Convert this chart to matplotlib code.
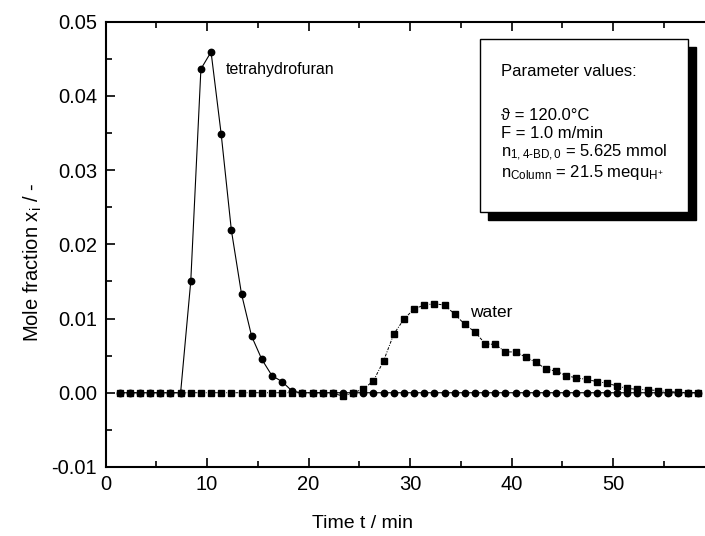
import matplotlib
matplotlib.use("Agg")
import matplotlib.pyplot as plt
from matplotlib.patches import Rectangle
from matplotlib.ticker import MultipleLocator
import numpy as np

plt.rcParams['font.family'] = ['Liberation Sans', 'DejaVu Sans']
plt.rcParams['mathtext.fontset'] = 'custom'
plt.rcParams['mathtext.rm'] = 'Liberation Sans'
plt.rcParams['mathtext.it'] = 'Liberation Sans'

# ---- data ----
time_min = [1.4, 2.4, 3.4, 4.4, 5.4, 6.4, 7.4, 8.4, 9.4, 10.4,
            11.4, 12.4, 13.4, 14.4, 15.4, 16.4, 17.4, 18.4, 19.4, 20.4,
            21.4, 22.4, 23.4, 24.4, 25.4, 26.4, 27.4, 28.4, 29.4, 30.4,
            31.4, 32.4, 33.4, 34.4, 35.4, 36.4, 37.4, 38.4, 39.4, 40.4,
            41.4, 42.4, 43.4, 44.4, 45.4, 46.4, 47.4, 48.4, 49.4, 50.4,
            51.4, 52.4, 53.4, 54.4, 55.4, 56.4, 57.4, 58.4]

x_thf = [0.0, 0.0, 0.0, 0.0, 0.0, 0.0, 0.0, 0.0150, 0.0436, 0.0459,
         0.0348, 0.0219, 0.0133, 0.0076, 0.0045, 0.0023, 0.0015, 0.0002, 0.0, 0.0,
         0.0, 0.0, 0.0, 0.0, 0.0, 0.0, 0.0, 0.0, 0.0, 0.0,
         0.0, 0.0, 0.0, 0.0, 0.0, 0.0, 0.0, 0.0, 0.0, 0.0,
         0.0, 0.0, 0.0, 0.0, 0.0, 0.0, 0.0, 0.0, 0.0, 0.0,
         0.0, 0.0, 0.0, 0.0, 0.0, 0.0, 0.0, 0.0]

x_water = [0.0, 0.0, 0.0, 0.0, 0.0, 0.0, 0.0, 0.0, 0.0, 0.0,
           0.0, 0.0, 0.0, 0.0, 0.0, 0.0, 0.0, 0.0, 0.0, 0.0,
           0.0, 0.0, -0.0005, 0.0, 0.0005, 0.0016, 0.0043, 0.0079, 0.0099, 0.0113,
           0.0118, 0.0120, 0.0118, 0.0106, 0.0092, 0.0082, 0.0066, 0.0065, 0.0055, 0.0055,
           0.0048, 0.0041, 0.0032, 0.0029, 0.0023, 0.0020, 0.0018, 0.0015, 0.0013, 0.0009,
           0.0006, 0.00045, 0.0004, 0.0003, 0.00015, 0.0001, 0.0, 0.0]

x_ticks = [0, 10, 20, 30, 40, 50]
y_ticks = [-0.01, 0.00, 0.01, 0.02, 0.03, 0.04, 0.05]

param_lines = ["Parameter values:",
               "",
               "\u03d1 = 120.0\u00b0C",
               "F = 1.0 m/min",
               r"n$_{\mathregular{1,4\text{-}BD,0}}$ = 5.625 mmol",
               r"n$_{\mathregular{Column}}$ = 21.5 mequ$_{\mathregular{H^{+}}}$"]

# ---- figure ----
W, H = 705, 536
fig = plt.figure(figsize=(W / 100, H / 100), dpi=100)
ax = fig.add_axes([105.5 / W, 1 - 467 / H, 609 / W, (467 - 21.5) / H])

ax.plot(time_min, x_water, linestyle=(0, (3, 1.5, 1, 1.5)), color='black', linewidth=0.7,
        marker='s', markersize=4.0, markerfacecolor='black', markeredgecolor='black', zorder=3)
ax.plot(time_min, x_thf, linestyle='-', color='black', linewidth=0.8,
        marker='o', markersize=4.6, markerfacecolor='black', markeredgecolor='black', zorder=4)

ax.set_xlim(0, 60)
ax.set_ylim(-0.01, 0.05)
ax.set_xticks(x_ticks)
ax.set_xticklabels([str(v) for v in x_ticks])
ax.set_yticks(y_ticks)
ax.set_yticklabels([f"{v:.2f}" for v in y_ticks])
ax.xaxis.set_minor_locator(MultipleLocator(5))
ax.yaxis.set_minor_locator(MultipleLocator(0.005))

ax.tick_params(which='major', direction='in', length=6.5, width=1.2,
               top=True, right=True, labelsize=14.5, pad=6)
ax.tick_params(which='minor', direction='in', length=4, width=1.2,
               top=True, right=True)
for s in ax.spines.values():
    s.set_linewidth(1.5)

fig.text(362 / W, 1 - 523 / H, "Time t / min", ha='center', va='center', fontsize=14)
fig.text(33 / W, 1 - 262 / H, r"Mole fraction x$_{\mathregular{i}}$ / -", ha='center',
         va='center', rotation=90, fontsize=14.5)

ax.text(11.8, 0.0435, "tetrahydrofuran", fontsize=11.5, ha='left', va='center')
ax.text(35.9, 0.0108, "water", fontsize=12.5, ha='left', va='center')

# parameter box with shadow
bx0, by_top, bx1, by_bot = 479.5, 39, 687.5, 212
off = 8
shadow = Rectangle(((bx0 + off) / W, 1 - (by_bot + off) / H), (bx1 - bx0) / W,
                   (by_bot - by_top) / H, transform=fig.transFigure,
                   facecolor='black', edgecolor='black', zorder=5)
box = Rectangle((bx0 / W, 1 - by_bot / H), (bx1 - bx0) / W, (by_bot - by_top) / H,
                transform=fig.transFigure, facecolor='white', edgecolor='black',
                linewidth=1.0, zorder=6)
fig.add_artist(shadow)
fig.add_artist(box)

line_y = [72, None, 115, 134, 153, 173]
for txt, yy in zip(param_lines, line_y):
    if yy is None:
        continue
    fig.text(501 / W, 1 - yy / H, txt, fontsize=12, ha='left', va='center', zorder=7)

fig.savefig("out.png", dpi=100)
